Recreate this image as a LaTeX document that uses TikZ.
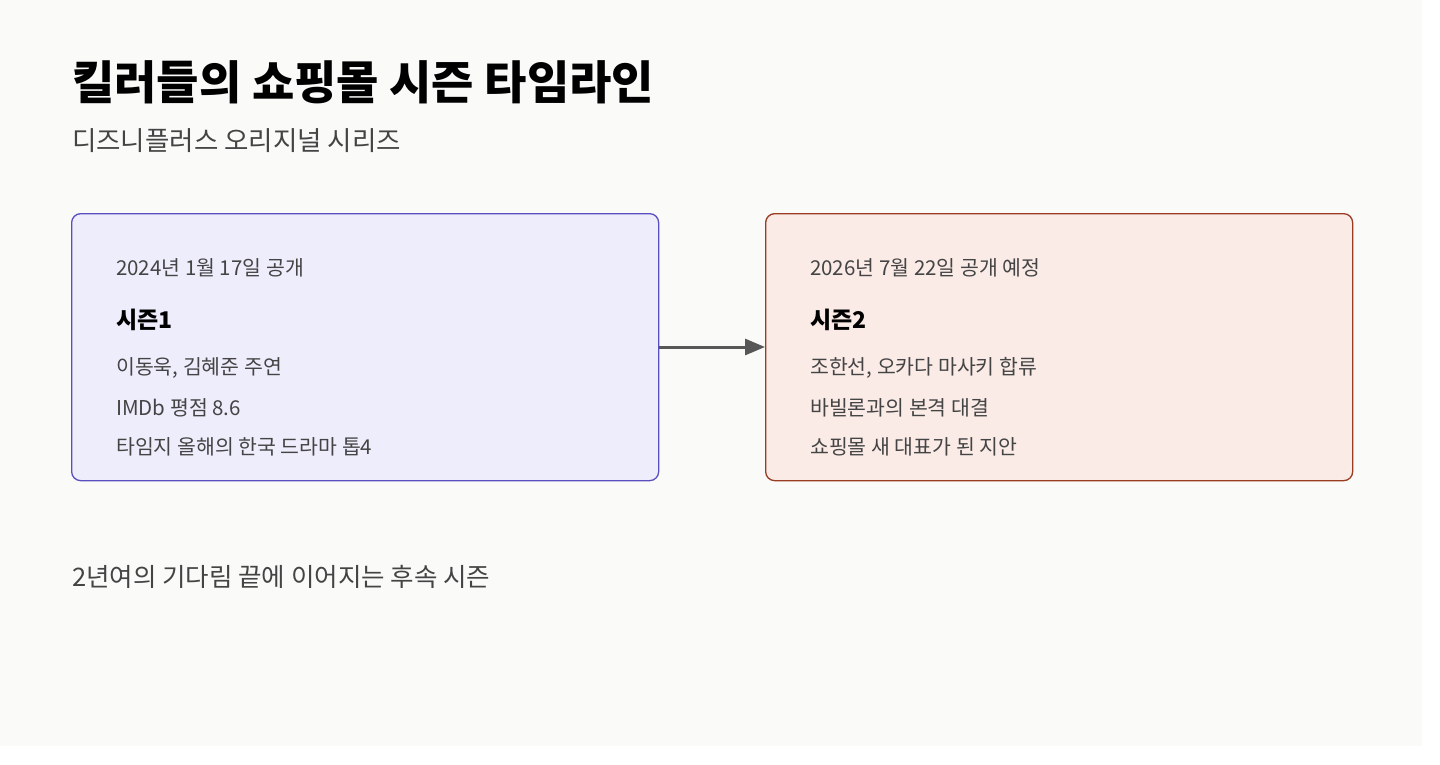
\documentclass[tikz,border=0pt]{standalone}
\usepackage{fontspec}
\setmainfont{Noto Sans CJK KR}
\usetikzlibrary{positioning,arrows.meta}
\definecolor{pagebg}{HTML}{FAFAF8}
\definecolor{oneFill}{HTML}{EEEDFC}
\definecolor{oneLine}{HTML}{5A4FBE}
\definecolor{twoFill}{HTML}{FAEBE7}
\definecolor{twoLine}{HTML}{993C22}
\definecolor{txtGray}{HTML}{444444}
\tikzset{
  season/.style = {draw, rounded corners=9pt, line width=1.3pt, minimum width=587pt, minimum height=267pt, anchor=north west},
  line/.style = {anchor=west, inner sep=0pt, text=txtGray, font=\fontsize{20.5}{24}\selectfont},
  head/.style = {anchor=west, inner sep=0pt, font=\fontsize{23}{27}\selectfont\bfseries},
}
\begin{document}
\begin{tikzpicture}[x=1pt, y=-1pt]
  \useasboundingbox (0,0) rectangle (1440,764);
  \fill[pagebg] (0,0) rectangle (1422,746);
  % title
  \node (title) [anchor=west, inner sep=0pt, font=\fontsize{46}{52}\selectfont\bfseries] at (72,82) {킬러들의 쇼핑몰 시즌 타임라인};
  \node (sub) [anchor=west, inner sep=0pt, text=txtGray, font=\fontsize{26.5}{30}\selectfont] at (72,141) {디즈니플러스 오리지널 시리즈};
  % seasons
  \node (s1) [season, fill=oneFill, draw=oneLine] at (71,213) {};
  \node (s2) [season, fill=twoFill, draw=twoLine] at (765,213) {};
  \node (s1date) [line] at (116,268) {2024년 1월 17일 공개};
  \node (s1head) [head] at (116,320) {시즌1};
  \node (s1a) [line] at (116,368) {이동욱, 김혜준 주연};
  \node (s1b) [line] at (116,408) {IMDb 평점 8.6};
  \node (s1c) [line] at (116,447) {타임지 올해의 한국 드라마 톱4};
  \node (s2date) [line] at (810,268) {2026년 7월 22일 공개 예정};
  \node (s2head) [head] at (810,320) {시즌2};
  \node (s2a) [line] at (810,368) {조한선, 오카다 마사키 합류};
  \node (s2b) [line] at (810,408) {바빌론과의 본격 대결};
  \node (s2c) [line] at (810,447) {쇼핑몰 새 대표가 된 지안};
  \draw[-{Triangle[length=20pt,width=16pt]}, line width=3pt, draw=txtGray!90] (s1.east |- 0,347) -- (s2.west |- 0,347);
  % footer
  \node (foot) [anchor=west, inner sep=0pt, text=txtGray, font=\fontsize{25.5}{30}\selectfont] at (72,577) {2년여의 기다림 끝에 이어지는 후속 시즌};
\end{tikzpicture}
\end{document}
